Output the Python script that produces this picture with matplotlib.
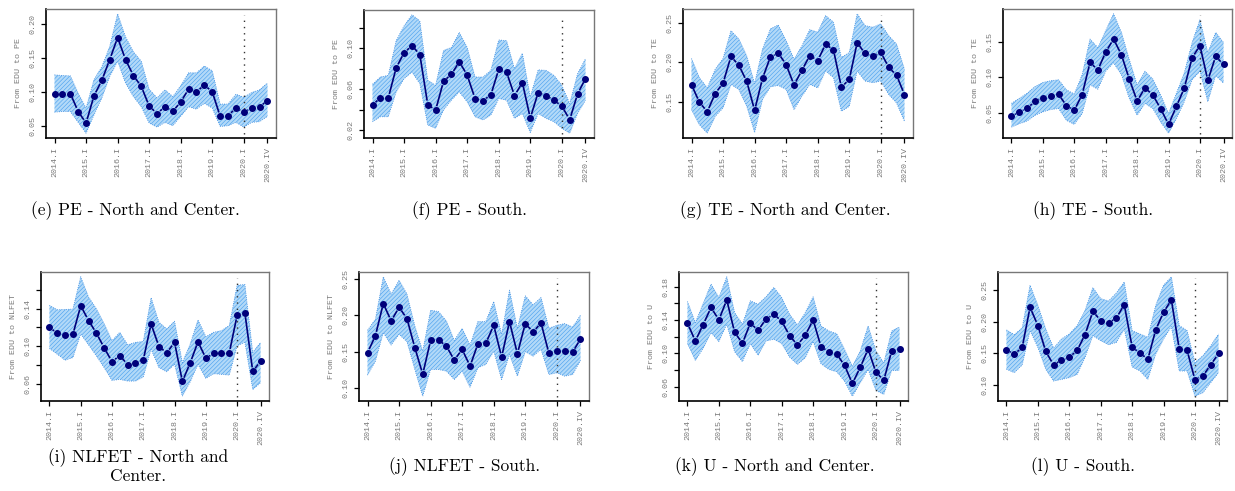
import numpy as np
import matplotlib
matplotlib.use("Agg")
import matplotlib.pyplot as plt

plt.rcParams["hatch.linewidth"] = 0.45

# quarters 2014.I ... 2020.IV
quarters = np.arange(28)
xtick_pos = [0, 4, 8, 12, 16, 20, 24, 27]
xtick_labels = ["2014.I", "2015.I", "2016.I", "2017.I", "2018.I", "2019.I", "2020.I", "2020.IV"]

# (e) PE - North and Center
pe_nc = [0.0975, 0.0975, 0.0975, 0.071, 0.054, 0.094, 0.117, 0.1475, 0.180, 0.1475, 0.124, 0.108, 0.079, 0.068,
         0.078, 0.0715, 0.085, 0.104, 0.100, 0.110, 0.100, 0.064, 0.065, 0.076, 0.070, 0.076, 0.078, 0.087]
pe_nc_hi = [0.125, 0.124, 0.1235, 0.098, 0.076, 0.118, 0.137, 0.167, 0.215, 0.181, 0.159, 0.145, 0.104, 0.091,
            0.103, 0.093, 0.109, 0.128, 0.128, 0.138, 0.131, 0.082, 0.082, 0.0965, 0.092, 0.099, 0.103, 0.113]
pe_nc_lo = [0.070, 0.071, 0.071, 0.055, 0.039, 0.066, 0.091, 0.1225, 0.145, 0.113, 0.093, 0.078, 0.054, 0.048,
            0.055, 0.050, 0.064, 0.078, 0.0745, 0.083, 0.076, 0.049, 0.050, 0.055, 0.048, 0.055, 0.056, 0.064]

# (f) PE - South
pe_s = [0.0448, 0.0516, 0.0516, 0.081, 0.0957, 0.1028, 0.094, 0.045, 0.0396, 0.0678, 0.0746, 0.0869, 0.0739, 0.0509,
        0.0487, 0.0545, 0.0794, 0.0765, 0.0538, 0.0665, 0.0318, 0.0568, 0.0538, 0.0493, 0.0435, 0.0302, 0.0555, 0.0704]
pe_s_hi = [0.0649, 0.072, 0.0736, 0.1076, 0.122, 0.133, 0.127, 0.0688, 0.0639, 0.0979, 0.101, 0.1157, 0.101, 0.072,
           0.072, 0.0785, 0.1083, 0.1076, 0.080, 0.0953, 0.0525, 0.079, 0.0785, 0.0736, 0.0639, 0.046, 0.0752, 0.0898]
pe_s_lo = [0.0282, 0.0331, 0.0331, 0.0574, 0.0704, 0.0768, 0.0655, 0.025, 0.0218, 0.0396, 0.0493, 0.0574, 0.0477, 0.0331,
           0.0299, 0.0347, 0.0509, 0.0493, 0.0315, 0.0363, 0.0176, 0.0363, 0.0315, 0.0282, 0.0218, 0.0169, 0.0363, 0.0493]

# (g) TE - North and Center
te_nc = [0.1714, 0.1492, 0.1372, 0.1603, 0.1735, 0.2073, 0.1962, 0.1757, 0.139, 0.1795, 0.2068, 0.2115, 0.197, 0.171,
         0.190, 0.2085, 0.2021, 0.223, 0.2154, 0.1684, 0.1782, 0.2248, 0.2111, 0.2073, 0.2124, 0.1936, 0.1833, 0.159]
te_nc_hi = [0.2047, 0.1804, 0.1675, 0.191, 0.2047, 0.240, 0.2295, 0.208, 0.173, 0.2167, 0.2423, 0.2474, 0.2273, 0.2038,
            0.2209, 0.2414, 0.238, 0.2593, 0.2508, 0.206, 0.2124, 0.2615, 0.2465, 0.2444, 0.2487, 0.2337, 0.223, 0.191]
te_nc_lo = [0.1398, 0.1206, 0.1099, 0.1312, 0.1419, 0.1718, 0.1654, 0.1441, 0.1108, 0.1526, 0.1688, 0.1705, 0.1654, 0.1398,
            0.1569, 0.1718, 0.1675, 0.1889, 0.1804, 0.1377, 0.1441, 0.1889, 0.1761, 0.174, 0.1761, 0.159, 0.1483, 0.1249]

# (h) TE - South
te_s = [0.0447, 0.0509, 0.0562, 0.0658, 0.0711, 0.074, 0.0759, 0.0596, 0.0533, 0.0755, 0.1212, 0.1106, 0.1361, 0.1544,
        0.1322, 0.0976, 0.0663, 0.0851, 0.075, 0.0553, 0.0331, 0.0586, 0.0846, 0.1279, 0.1452, 0.0957, 0.1298, 0.1183]
te_s_hi = [0.063, 0.0702, 0.0774, 0.087, 0.0928, 0.0952, 0.0966, 0.0822, 0.0764, 0.1038, 0.1544, 0.1423, 0.1664, 0.1904,
           0.164, 0.1255, 0.0894, 0.1087, 0.0976, 0.075, 0.0485, 0.0774, 0.1063, 0.1495, 0.1822, 0.1351, 0.164, 0.1495]
te_s_lo = [0.0293, 0.0341, 0.038, 0.0461, 0.0509, 0.0543, 0.0557, 0.0389, 0.0331, 0.0485, 0.0894, 0.0832, 0.1087, 0.1207,
           0.1038, 0.0702, 0.0461, 0.063, 0.0557, 0.0365, 0.0206, 0.0413, 0.0654, 0.0966, 0.1087, 0.0654, 0.1024, 0.0918]

# (i) NLFET - North and Center
nl_nc = [0.1202, 0.1137, 0.1115, 0.1126, 0.1432, 0.1274, 0.114, 0.0982, 0.0834, 0.0899, 0.0802, 0.0824, 0.0852, 0.1238,
         0.0996, 0.0928, 0.104, 0.0622, 0.082, 0.1047, 0.087, 0.0924, 0.0924, 0.0928, 0.1328, 0.1353, 0.073, 0.0838]
nl_nc_hi = [0.1436, 0.1389, 0.1392, 0.1396, 0.1742, 0.1526, 0.14, 0.1238, 0.1058, 0.1148, 0.1014, 0.104, 0.105, 0.1518,
            0.1256, 0.1184, 0.1266, 0.0824, 0.1022, 0.1281, 0.1101, 0.1148, 0.1166, 0.122, 0.1652, 0.1659, 0.0932, 0.104]
nl_nc_lo = [0.0975, 0.0914, 0.0849, 0.0878, 0.113, 0.1014, 0.0896, 0.077, 0.0633, 0.0644, 0.0626, 0.0626, 0.0669, 0.0968,
            0.077, 0.0726, 0.0806, 0.0464, 0.0618, 0.0806, 0.0654, 0.0705, 0.0698, 0.069, 0.1004, 0.104, 0.0536, 0.0608]

# (j) NLFET - South
nl_s = [0.1486, 0.172, 0.2161, 0.1922, 0.211, 0.1954, 0.1555, 0.1192, 0.1656, 0.1661, 0.1578, 0.1385, 0.1532, 0.1303,
        0.161, 0.1615, 0.1863, 0.1427, 0.1913, 0.1472, 0.1886, 0.1771, 0.1895, 0.1477, 0.1509, 0.1509, 0.1495, 0.1674]
nl_s_hi = [0.1794, 0.1945, 0.2528, 0.229, 0.2482, 0.229, 0.1853, 0.1509, 0.2069, 0.2051, 0.1922, 0.1656, 0.1821, 0.1592,
           0.1913, 0.1913, 0.2189, 0.1739, 0.2345, 0.1821, 0.2267, 0.2143, 0.2244, 0.1821, 0.1863, 0.1886, 0.184, 0.200]
nl_s_lo = [0.1179, 0.1371, 0.1762, 0.1592, 0.1739, 0.1638, 0.1257, 0.089, 0.1257, 0.1257, 0.1234, 0.1119, 0.1234, 0.1013,
           0.128, 0.1326, 0.1509, 0.1119, 0.1463, 0.1165, 0.150, 0.144, 0.1532, 0.1188, 0.1211, 0.1165, 0.1188, 0.1381]

# (k) U - North and Center
u_nc = [0.1362, 0.1149, 0.1346, 0.1551, 0.1402, 0.1643, 0.1253, 0.1121, 0.1362, 0.1277, 0.1414, 0.147, 0.1386, 0.1213,
        0.1101, 0.1217, 0.1402, 0.108, 0.102, 0.0992, 0.0855, 0.0638, 0.0831, 0.1052, 0.0771, 0.0678, 0.1028, 0.1052]
u_nc_hi = [0.1623, 0.137, 0.1599, 0.1832, 0.1671, 0.192, 0.149, 0.135, 0.1631, 0.1591, 0.1679, 0.1792, 0.1671, 0.147,
           0.1342, 0.149, 0.1679, 0.133, 0.1269, 0.1237, 0.1048, 0.0847, 0.1028, 0.133, 0.1028, 0.0887, 0.1269, 0.1318]
u_nc_lo = [0.1117, 0.0916, 0.106, 0.1249, 0.1141, 0.135, 0.102, 0.090, 0.1117, 0.0976, 0.1149, 0.1169, 0.1117, 0.0956,
           0.0867, 0.0948, 0.1141, 0.0875, 0.0807, 0.0779, 0.0666, 0.0485, 0.0646, 0.0807, 0.0554, 0.0506, 0.0795, 0.0795]

# (l) U - South
u_s = [0.1559, 0.1489, 0.1596, 0.2229, 0.1942, 0.1532, 0.1319, 0.1399, 0.1441, 0.1548, 0.1798, 0.2165, 0.2021, 0.1984,
       0.2064, 0.2271, 0.1601, 0.1505, 0.141, 0.1872, 0.2154, 0.2346, 0.1569, 0.1548, 0.1085, 0.1144, 0.1319, 0.150]
u_s_hi = [0.1872, 0.1798, 0.1904, 0.258, 0.2261, 0.1888, 0.1585, 0.1729, 0.1809, 0.1942, 0.2181, 0.2543, 0.2367, 0.233,
          0.2458, 0.2633, 0.1862, 0.1809, 0.1755, 0.2261, 0.258, 0.2713, 0.1942, 0.1862, 0.1356, 0.1463, 0.1622, 0.1809]
u_s_lo = [0.125, 0.1197, 0.1319, 0.1862, 0.1596, 0.125, 0.1064, 0.109, 0.1117, 0.117, 0.1436, 0.1782, 0.1702, 0.1638,
          0.1676, 0.1888, 0.1287, 0.1223, 0.109, 0.1489, 0.1729, 0.1926, 0.1223, 0.1223, 0.0824, 0.0878, 0.1037, 0.1197]

panels = [
    (pe_nc, pe_nc_lo, pe_nc_hi, "From EDU to PE", "(e) PE - North and Center.",
     [0.05, 0.10, 0.15, 0.20], [0.05, 0.10, 0.15, 0.20]),
    (pe_s, pe_s_lo, pe_s_hi, "From EDU to PE", "(f) PE - South.",
     [0.02, 0.04, 0.06, 0.08, 0.10, 0.12], [0.02, 0.06, 0.10]),
    (te_nc, te_nc_lo, te_nc_hi, "From EDU to TE", "(g) TE - North and Center.",
     [0.15, 0.20, 0.25], [0.15, 0.20, 0.25]),
    (te_s, te_s_lo, te_s_hi, "From EDU to TE", "(h) TE - South.",
     [0.05, 0.10, 0.15], [0.05, 0.10, 0.15]),
    (nl_nc, nl_nc_lo, nl_nc_hi, "From EDU to NLFET", "(i) NLFET - North and\nCenter.",
     [0.06, 0.08, 0.10, 0.12, 0.14, 0.16], [0.06, 0.10, 0.14]),
    (nl_s, nl_s_lo, nl_s_hi, "From EDU to NLFET", "(j) NLFET - South.",
     [0.10, 0.15, 0.20, 0.25], [0.10, 0.15, 0.20, 0.25]),
    (u_nc, u_nc_lo, u_nc_hi, "From EDU to U", "(k) U - North and Center.",
     [0.06, 0.08, 0.10, 0.12, 0.14, 0.16, 0.18], [0.06, 0.10, 0.14, 0.18]),
    (u_s, u_s_lo, u_s_hi, "From EDU to U", "(l) U - South.",
     [0.10, 0.15, 0.20, 0.25], [0.10, 0.15, 0.20, 0.25]),
]

W, H = 1235, 491
# axes boxes in pixels: left, right, top, bottom
boxes = [(46, 276, 9, 138), (364, 594, 10, 138), (683, 913, 9, 138), (1003, 1232, 9, 138),
         (41, 269, 272, 401), (359, 589, 272, 401), (679, 908, 272, 401), (998, 1227, 272, 401)]
caption_pos = [(135, 211), (470, 211), (785, 211), (1093, 211),
               (138, 466), (465, 467), (775, 467), (1083, 467)]

fig = plt.figure(figsize=(W / 100, H / 100), dpi=100)
mono = "Liberation Mono"
grey = "#7a7a7a"
navy = "#00007a"

for (vals, lo, hi, ylab, cap, yt, ytl), (l, r, t, b), (cx, cy) in zip(panels, boxes, caption_pos):
    ax = fig.add_axes([l / W, 1 - b / H, (r - l) / W, (b - t) / H])
    vals, lo, hi = np.array(vals), np.array(lo), np.array(hi)

    ymin, ymax = lo.min(), hi.max()
    pad = 0.04 * (ymax - ymin)
    ax.set_ylim(ymin - pad, ymax + pad)
    ax.set_xlim(-0.04 * 27, 27 * 1.04)

    ax.fill_between(quarters, lo, hi, facecolor="#b2d9f8", edgecolor="#4fa3ee",
                    hatch="////////", linewidth=0, zorder=1)
    ax.plot(quarters, hi, ls=":", color="#3a8ae0", lw=0.6, zorder=2)
    ax.plot(quarters, lo, ls=":", color="#3a8ae0", lw=0.6, zorder=2)

    ax.axvline(24, ymin=0.03, ymax=0.95, color="#333333", ls=(0, (1, 3.5)), lw=1.0, zorder=2)

    # R style type="b": segments with gaps around the points
    fig.canvas.draw()
    pix = ax.transData.transform(np.column_stack([quarters, vals]))
    gap = 4.0
    inv = ax.transData.inverted()
    for p0, p1 in zip(pix[:-1], pix[1:]):
        d = p1 - p0
        n = np.hypot(*d)
        if n <= 2 * gap:
            continue
        u = d / n
        seg = inv.transform(np.array([p0 + u * gap, p1 - u * gap]))
        ax.plot(seg[:, 0], seg[:, 1], color=navy, lw=1.2, solid_capstyle="butt", zorder=3)
    ax.plot(quarters, vals, "o", color=navy, ms=4.0, zorder=4)

    ax.set_xticks(xtick_pos)
    ax.set_xticklabels(xtick_labels, rotation=90, fontsize=6, family=mono, color=grey)
    ax.set_yticks(yt)
    ax.set_yticklabels([f"{v:.2f}" if any(abs(v - s) < 1e-9 for s in ytl) else "" for v in yt],
                       rotation=90, va="center", fontsize=6, family=mono, color=grey)
    ax.tick_params(length=3.5, width=0.9, color="black", pad=3)
    ax.set_ylabel(ylab, fontsize=6, family=mono, color=grey, labelpad=6)

    for side in ["left", "bottom"]:
        ax.spines[side].set_color("black")
        ax.spines[side].set_linewidth(1.2)
    for side in ["top", "right"]:
        ax.spines[side].set_color("#777777")
        ax.spines[side].set_linewidth(1.0)

    fig.text(cx / W, 1 - cy / H, cap, ha="center", va="center", fontsize=12.5,
             family=["cmr10", "DejaVu Serif"], linespacing=1.1)

fig.savefig("out.png", dpi=100)
